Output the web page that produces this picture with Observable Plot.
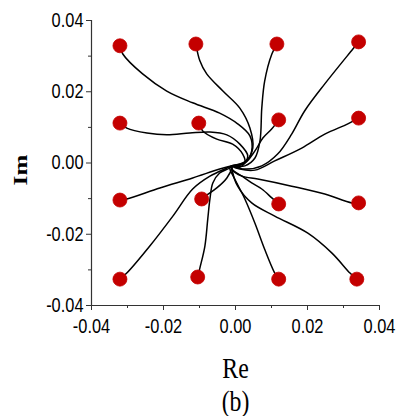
<!DOCTYPE html>
<html><head><meta charset="utf-8">
<script src="https://cdn.jsdelivr.net/npm/d3@7"></script>
<script src="https://cdn.jsdelivr.net/npm/@observablehq/plot@0.6"></script>
<style>body{margin:0;background:#fff}</style>
</head><body><div id="chart"></div>
<script>
const xTicks = [-0.04, -0.02, 0, 0.02, 0.04];
const yTicks = [-0.04, -0.02, 0, 0.02, 0.04];
const minorTicks = [-0.03, -0.01, 0.01, 0.03];

// pole positions (red dots)
const poleRe = [-0.0321, -0.0110, 0.0115, 0.0342, -0.0321, -0.0102, 0.0120, 0.0342,
                -0.0321, -0.0094, 0.0120, 0.0342, -0.0321, -0.0105, 0.0120, 0.0337];
const poleIm = [0.0329, 0.0334, 0.0334, 0.0340, 0.0112, 0.0112, 0.0121, 0.0126,
                -0.0104, -0.0101, -0.0115, -0.0112, -0.0326, -0.0320, -0.0326, -0.0326];

// trajectories [Re, Im]
const pathA = [[-0.0321,0.0329],[-0.0313,0.0306],[-0.0258,0.0250],[-0.0191,0.0202],[-0.0119,0.0169],[-0.0044,0.0140],[0.0006,0.0110],[0.0040,0.0076],[0.0045,0.0034],[0.0029,0.0003],[-0.0010,-0.0008]];
const pathB = [[-0.0110,0.0334],[-0.0099,0.0287],[-0.0080,0.0250],[-0.0035,0.0202],[0.0012,0.0154],[0.0040,0.0098],[0.0048,0.0042],[0.0029,0.0006],[-0.0010,-0.0008]];
const pathC = [[0.0115,0.0334],[0.0101,0.0306],[0.0081,0.0230],[0.0073,0.0154],[0.0068,0.0062],[0.0054,0.0014],[0.0026,-0.0008],[-0.0010,-0.0008]];
const pathD = [[0.0342,0.0340],[0.0326,0.0320],[0.0248,0.0222],[0.0192,0.0146],[0.0156,0.0081],[0.0117,0.0025],[0.0073,-0.0008],[0.0026,-0.0017],[-0.0010,-0.0008]];
const pathE = [[-0.0321,0.0112],[-0.0302,0.0098],[-0.0246,0.0084],[-0.0191,0.0079],[-0.0127,0.0084],[-0.0071,0.0087],[-0.0024,0.0079],[0.0012,0.0053],[0.0034,0.0020],[0.0020,-0.0003],[-0.0010,-0.0008]];
const pathF = [[-0.0102,0.0112],[-0.0091,0.0090],[-0.0052,0.0067],[-0.0008,0.0053],[0.0020,0.0025],[0.0026,0.0000],[0.0004,-0.0014],[-0.0010,-0.0008]];
const pathG = [[0.0120,0.0121],[0.0101,0.0096],[0.0076,0.0070],[0.0054,0.0034],[0.0026,0.0000],[-0.0010,-0.0008]];
const pathH = [[0.0342,0.0126],[0.0312,0.0110],[0.0248,0.0081],[0.0184,0.0042],[0.0109,0.0006],[0.0054,-0.0020],[0.0012,-0.0017],[-0.0010,-0.0008]];
const pathI = [[-0.0321,-0.0104],[-0.0302,-0.0101],[-0.0210,-0.0070],[-0.0119,-0.0042],[-0.0044,-0.0017],[-0.0010,-0.0008]];
const pathJ = [[-0.0094,-0.0101],[-0.0080,-0.0090],[-0.0052,-0.0070],[-0.0024,-0.0042],[-0.0010,-0.0014],[-0.0010,-0.0008]];
const pathK = [[-0.0321,-0.0326],[-0.0302,-0.0309],[-0.0238,-0.0233],[-0.0174,-0.0149],[-0.0119,-0.0073],[-0.0071,-0.0037],[-0.0024,-0.0014],[-0.0010,-0.0008]];
const pathL = [[-0.0105,-0.0320],[-0.0099,-0.0295],[-0.0085,-0.0233],[-0.0077,-0.0157],[-0.0071,-0.0101],[-0.0063,-0.0056],[-0.0044,-0.0028],[-0.0016,-0.0014],[-0.0010,-0.0008]];
const pathM = [[0.0120,-0.0326],[0.0109,-0.0309],[0.0081,-0.0242],[0.0054,-0.0169],[0.0026,-0.0101],[-0.0002,-0.0045],[-0.0016,-0.0014],[-0.0010,-0.0008]];
const pathN = [[0.0337,-0.0326],[0.0318,-0.0309],[0.0268,-0.0253],[0.0201,-0.0197],[0.0109,-0.0149],[0.0045,-0.0112],[0.0006,-0.0065],[-0.0010,-0.0017],[-0.0010,-0.0008]];
const pathO = [[0.0120,-0.0115],[0.0101,-0.0098],[0.0073,-0.0073],[0.0045,-0.0056],[0.0018,-0.0037],[-0.0010,-0.0017],[-0.0010,-0.0008]];
const pathP = [[0.0342,-0.0112],[0.0323,-0.0112],[0.0248,-0.0087],[0.0156,-0.0065],[0.0062,-0.0045],[0.0018,-0.0037],[-0.0010,-0.0017],[-0.0010,-0.0008]];

const paths = [pathA,pathB,pathC,pathD,pathE,pathF,pathG,pathH,pathI,pathJ,pathK,pathL,pathM,pathN,pathO,pathP];
const lineRows = paths.flatMap((p, k) => p.map(([re, im]) => ({k, re, im})));
const dotRows = poleRe.map((re, i) => ({re, im: poleIm[i]}));

const fmt = d => d.toFixed(2);
const chart = Plot.plot({
  width: 397, height: 416,
  marginLeft: 91, marginRight: 18, marginTop: 20, marginBottom: 111,
  x: {domain: [-0.04, 0.04], label: null},
  y: {domain: [-0.04, 0.04], label: null},
  style: {fontFamily: "Liberation Sans", fontSize: "20px", color: "black", background: "white"},
  marks: [
    Plot.ruleX([-0.04], {stroke: "#333", strokeWidth: 1.2}),
    Plot.ruleY([-0.04], {stroke: "#333", strokeWidth: 1.2}),
    Plot.axisX(xTicks, {tickSize: 5, tickPadding: 8, tickFormat: fmt, fontSize: 20, label: null, stroke: "#333"}),
    Plot.axisX(minorTicks, {tickSize: 3, tickFormat: () => "", label: null, stroke: "#333"}),
    Plot.axisY(yTicks, {tickSize: 5, tickPadding: 3, tickFormat: fmt, fontSize: 20, label: null, stroke: "#333"}),
    Plot.axisY(minorTicks, {tickSize: 3, tickFormat: () => "", label: null, stroke: "#333"}),
    Plot.line(lineRows, {x: "re", y: "im", z: "k", curve: "catmull-rom", stroke: "black", strokeWidth: 1.5}),
    Plot.dot(dotRows, {x: "re", y: "im", r: 7, fill: "#c40000", stroke: "#c40000", strokeWidth: 0.8}),
    Plot.text(["Re"], {frameAnchor: "bottom", text: d => d, dy: 72, fontFamily: "Liberation Serif", fontSize: 29, textAnchor: "middle", lineAnchor: "bottom"}),
    Plot.text(["(b)"], {frameAnchor: "bottom", text: d => d, dy: 105, fontFamily: "Liberation Serif", fontSize: 29, textAnchor: "middle", lineAnchor: "bottom"}),
    Plot.text(["Im"], {frameAnchor: "left", text: d => d, rotate: -90, dx: -70, dy: 7, fontFamily: "Liberation Serif", fontWeight: "bold", fontSize: 24, textAnchor: "middle", lineAnchor: "middle"})
  ]
});
// horizontally condensed lettering as in the reference
chart.querySelectorAll("text").forEach(t => {
  const tr = t.getAttribute("transform") || "";
  if (t.textContent === "Im") t.setAttribute("transform", tr + " scale(1.05,0.75)");
  else t.setAttribute("transform", tr + " scale(0.82,1)");
});
document.getElementById("chart").append(chart);
</script>
</body></html>
